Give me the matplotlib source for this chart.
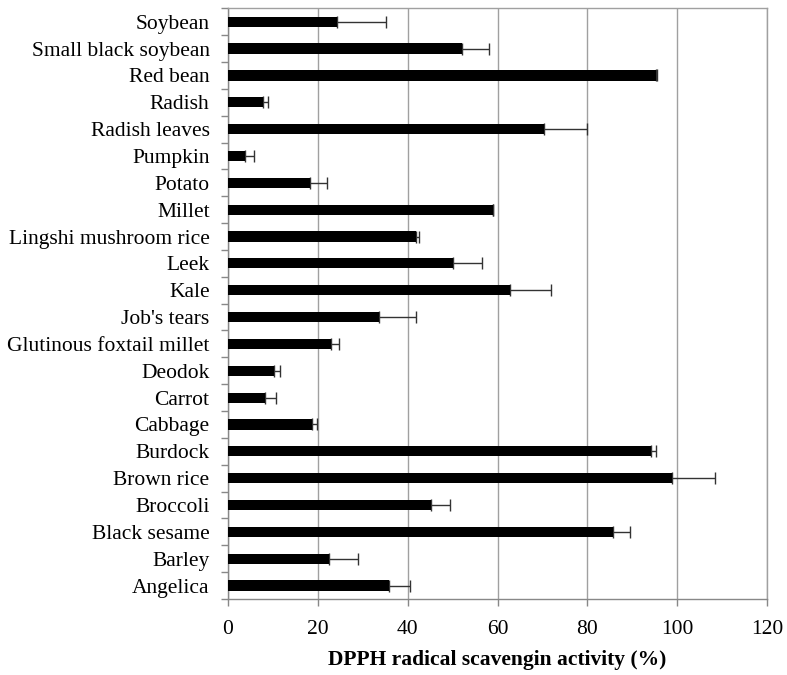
import matplotlib
matplotlib.use("Agg")
import matplotlib.pyplot as plt
import numpy as np

categories = ["Soybean", "Small black soybean", "Red bean", "Radish", "Radish leaves",
              "Pumpkin", "Potato", "Millet", "Lingshi mushroom rice", "Leek", "Kale",
              "Job's tears", "Glutinous foxtail millet", "Deodok", "Carrot", "Cabbage",
              "Burdock", "Brown rice", "Broccoli", "Black sesame", "Barley", "Angelica"]
values = [24.2, 52.2, 95.2, 7.8, 70.4, 3.9, 18.3, 58.9, 41.9, 50.2, 62.8,
          33.6, 23.0, 10.2, 8.4, 18.7, 94.1, 98.9, 45.3, 85.7, 22.5, 35.8]
errors = [10.9, 5.9, 0.3, 1.1, 9.6, 1.9, 3.7, 0.1, 0.6, 6.4, 9.1,
          8.2, 1.8, 1.5, 2.3, 1.2, 1.2, 9.5, 4.1, 3.7, 6.5, 4.8]
xticks = [0, 20, 40, 60, 80, 100, 120]

plt.rcParams['font.family'] = ['Liberation Serif', 'DejaVu Serif']

fig = plt.figure(figsize=(7.87, 6.75), dpi=100)
ax = fig.add_axes([0.2893, 0.1126, 0.6857, 0.8751])

n = len(categories)
y = np.arange(n)[::-1]
ax.barh(y, values, height=0.38, color='black', zorder=3)
ax.errorbar(values, y, xerr=[np.zeros(n), errors], fmt='none', ecolor='#333333',
            elinewidth=1.0, capsize=4, capthick=1.0, zorder=2)

ax.set_xlim(0, 120)
ax.set_ylim(-0.5, n - 0.5)
ax.set_xticks(xticks)
ax.set_xticklabels([str(t) for t in xticks], fontsize=15.5)
ax.set_yticks(y)
ax.set_yticklabels(categories, fontsize=15.5)
ax.tick_params(axis='y', length=0, pad=13)
ax.set_yticks(np.arange(-0.5, n, 1.0), minor=True)
ax.tick_params(axis='y', which='minor', length=5, color='#888888', width=1)
ax.tick_params(axis='x', length=5, color='#888888', width=1, pad=10)
ax.grid(axis='x', color='#a0a0a0', linewidth=1, zorder=0)
for s in ax.spines.values():
    s.set_color('#a0a0a0')
    s.set_linewidth(1)
ax.spines['left'].set_color('#888888')
ax.spines['bottom'].set_color('#888888')
ax.set_xlabel("DPPH radical scavengin activity (%)", fontsize=15.5, fontweight='bold', labelpad=8)

fig.savefig("out.png", dpi=100)
